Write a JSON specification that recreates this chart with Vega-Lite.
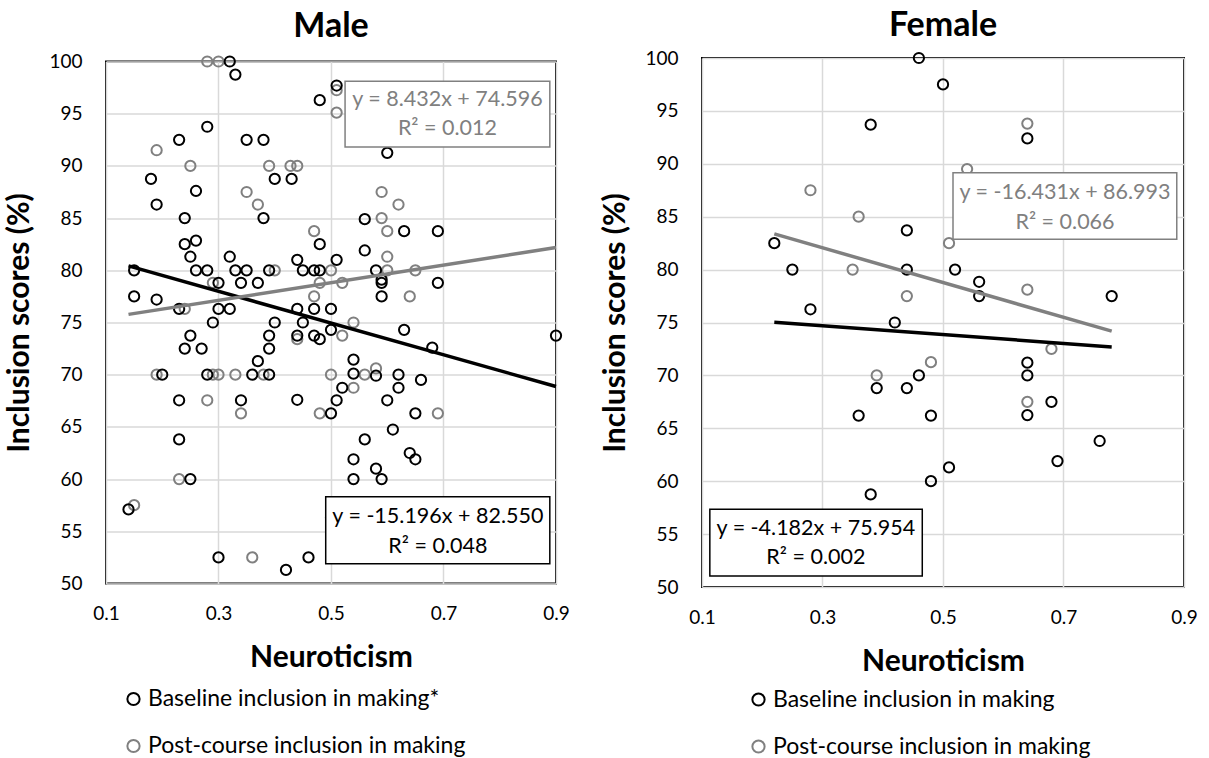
{
  "$schema": "https://vega.github.io/schema/vega-lite/v6.json",
  "padding": {"left": 3, "top": 7, "right": 5, "bottom": 0},
  "bounds": "flush",
  "center": true,
  "spacing": 146,
  "background": "white",
  "datasets": {
    "maleP": [
      {"series": "Post-course inclusion in making", "x": 0.28, "y": 100},
      {"series": "Post-course inclusion in making", "x": 0.30, "y": 100},
      {"series": "Post-course inclusion in making", "x": 0.19, "y": 91.5},
      {"series": "Post-course inclusion in making", "x": 0.25, "y": 90},
      {"series": "Post-course inclusion in making", "x": 0.39, "y": 90},
      {"series": "Post-course inclusion in making", "x": 0.428, "y": 90},
      {"series": "Post-course inclusion in making", "x": 0.44, "y": 90},
      {"series": "Post-course inclusion in making", "x": 0.35, "y": 87.5},
      {"series": "Post-course inclusion in making", "x": 0.37, "y": 86.3},
      {"series": "Post-course inclusion in making", "x": 0.47, "y": 83.75},
      {"series": "Post-course inclusion in making", "x": 0.40, "y": 80},
      {"series": "Post-course inclusion in making", "x": 0.50, "y": 80},
      {"series": "Post-course inclusion in making", "x": 0.29, "y": 78.8},
      {"series": "Post-course inclusion in making", "x": 0.48, "y": 78.8},
      {"series": "Post-course inclusion in making", "x": 0.47, "y": 77.5},
      {"series": "Post-course inclusion in making", "x": 0.24, "y": 76.3},
      {"series": "Post-course inclusion in making", "x": 0.51, "y": 97.25},
      {"series": "Post-course inclusion in making", "x": 0.51, "y": 95.1},
      {"series": "Post-course inclusion in making", "x": 0.59, "y": 87.5},
      {"series": "Post-course inclusion in making", "x": 0.62, "y": 86.3},
      {"series": "Post-course inclusion in making", "x": 0.59, "y": 85},
      {"series": "Post-course inclusion in making", "x": 0.60, "y": 83.75},
      {"series": "Post-course inclusion in making", "x": 0.60, "y": 81.3},
      {"series": "Post-course inclusion in making", "x": 0.60, "y": 80},
      {"series": "Post-course inclusion in making", "x": 0.65, "y": 80},
      {"series": "Post-course inclusion in making", "x": 0.64, "y": 77.5},
      {"series": "Post-course inclusion in making", "x": 0.52, "y": 78.8},
      {"series": "Post-course inclusion in making", "x": 0.54, "y": 75},
      {"series": "Post-course inclusion in making", "x": 0.19, "y": 70},
      {"series": "Post-course inclusion in making", "x": 0.29, "y": 70},
      {"series": "Post-course inclusion in making", "x": 0.30, "y": 70},
      {"series": "Post-course inclusion in making", "x": 0.33, "y": 70},
      {"series": "Post-course inclusion in making", "x": 0.38, "y": 70},
      {"series": "Post-course inclusion in making", "x": 0.44, "y": 73.4},
      {"series": "Post-course inclusion in making", "x": 0.50, "y": 70},
      {"series": "Post-course inclusion in making", "x": 0.28, "y": 67.55},
      {"series": "Post-course inclusion in making", "x": 0.34, "y": 66.3},
      {"series": "Post-course inclusion in making", "x": 0.48, "y": 66.3},
      {"series": "Post-course inclusion in making", "x": 0.23, "y": 60},
      {"series": "Post-course inclusion in making", "x": 0.15, "y": 57.5},
      {"series": "Post-course inclusion in making", "x": 0.36, "y": 52.5},
      {"series": "Post-course inclusion in making", "x": 0.52, "y": 73.75},
      {"series": "Post-course inclusion in making", "x": 0.56, "y": 70},
      {"series": "Post-course inclusion in making", "x": 0.58, "y": 70.6},
      {"series": "Post-course inclusion in making", "x": 0.54, "y": 68.75},
      {"series": "Post-course inclusion in making", "x": 0.69, "y": 66.3},
      {"series": "Baseline inclusion in making*", "x": 0.32, "y": 100},
      {"series": "Baseline inclusion in making*", "x": 0.33, "y": 98.75},
      {"series": "Baseline inclusion in making*", "x": 0.48, "y": 96.3},
      {"series": "Baseline inclusion in making*", "x": 0.28, "y": 93.75},
      {"series": "Baseline inclusion in making*", "x": 0.23, "y": 92.5},
      {"series": "Baseline inclusion in making*", "x": 0.35, "y": 92.5},
      {"series": "Baseline inclusion in making*", "x": 0.38, "y": 92.5},
      {"series": "Baseline inclusion in making*", "x": 0.18, "y": 88.75},
      {"series": "Baseline inclusion in making*", "x": 0.40, "y": 88.75},
      {"series": "Baseline inclusion in making*", "x": 0.43, "y": 88.75},
      {"series": "Baseline inclusion in making*", "x": 0.26, "y": 87.6},
      {"series": "Baseline inclusion in making*", "x": 0.19, "y": 86.3},
      {"series": "Baseline inclusion in making*", "x": 0.24, "y": 85},
      {"series": "Baseline inclusion in making*", "x": 0.38, "y": 85},
      {"series": "Baseline inclusion in making*", "x": 0.48, "y": 82.5},
      {"series": "Baseline inclusion in making*", "x": 0.24, "y": 82.5},
      {"series": "Baseline inclusion in making*", "x": 0.26, "y": 82.85},
      {"series": "Baseline inclusion in making*", "x": 0.25, "y": 81.3},
      {"series": "Baseline inclusion in making*", "x": 0.32, "y": 81.3},
      {"series": "Baseline inclusion in making*", "x": 0.44, "y": 81},
      {"series": "Baseline inclusion in making*", "x": 0.15, "y": 80},
      {"series": "Baseline inclusion in making*", "x": 0.26, "y": 80},
      {"series": "Baseline inclusion in making*", "x": 0.28, "y": 80},
      {"series": "Baseline inclusion in making*", "x": 0.33, "y": 80},
      {"series": "Baseline inclusion in making*", "x": 0.35, "y": 80},
      {"series": "Baseline inclusion in making*", "x": 0.39, "y": 80},
      {"series": "Baseline inclusion in making*", "x": 0.45, "y": 80},
      {"series": "Baseline inclusion in making*", "x": 0.47, "y": 80},
      {"series": "Baseline inclusion in making*", "x": 0.48, "y": 80},
      {"series": "Baseline inclusion in making*", "x": 0.34, "y": 78.8},
      {"series": "Baseline inclusion in making*", "x": 0.37, "y": 78.8},
      {"series": "Baseline inclusion in making*", "x": 0.30, "y": 78.8},
      {"series": "Baseline inclusion in making*", "x": 0.15, "y": 77.5},
      {"series": "Baseline inclusion in making*", "x": 0.19, "y": 77.2},
      {"series": "Baseline inclusion in making*", "x": 0.23, "y": 76.3},
      {"series": "Baseline inclusion in making*", "x": 0.30, "y": 76.3},
      {"series": "Baseline inclusion in making*", "x": 0.32, "y": 76.3},
      {"series": "Baseline inclusion in making*", "x": 0.44, "y": 76.3},
      {"series": "Baseline inclusion in making*", "x": 0.47, "y": 76.3},
      {"series": "Baseline inclusion in making*", "x": 0.50, "y": 76.3},
      {"series": "Baseline inclusion in making*", "x": 0.51, "y": 97.7},
      {"series": "Baseline inclusion in making*", "x": 0.60, "y": 91.25},
      {"series": "Baseline inclusion in making*", "x": 0.56, "y": 84.9},
      {"series": "Baseline inclusion in making*", "x": 0.63, "y": 83.75},
      {"series": "Baseline inclusion in making*", "x": 0.69, "y": 83.75},
      {"series": "Baseline inclusion in making*", "x": 0.56, "y": 81.9},
      {"series": "Baseline inclusion in making*", "x": 0.51, "y": 81},
      {"series": "Baseline inclusion in making*", "x": 0.58, "y": 80},
      {"series": "Baseline inclusion in making*", "x": 0.59, "y": 79.1},
      {"series": "Baseline inclusion in making*", "x": 0.59, "y": 78.8},
      {"series": "Baseline inclusion in making*", "x": 0.69, "y": 78.8},
      {"series": "Baseline inclusion in making*", "x": 0.59, "y": 77.5},
      {"series": "Baseline inclusion in making*", "x": 0.29, "y": 75},
      {"series": "Baseline inclusion in making*", "x": 0.25, "y": 73.75},
      {"series": "Baseline inclusion in making*", "x": 0.24, "y": 72.5},
      {"series": "Baseline inclusion in making*", "x": 0.27, "y": 72.5},
      {"series": "Baseline inclusion in making*", "x": 0.20, "y": 70},
      {"series": "Baseline inclusion in making*", "x": 0.28, "y": 70},
      {"series": "Baseline inclusion in making*", "x": 0.36, "y": 70},
      {"series": "Baseline inclusion in making*", "x": 0.39, "y": 70},
      {"series": "Baseline inclusion in making*", "x": 0.37, "y": 71.3},
      {"series": "Baseline inclusion in making*", "x": 0.39, "y": 72.5},
      {"series": "Baseline inclusion in making*", "x": 0.39, "y": 73.75},
      {"series": "Baseline inclusion in making*", "x": 0.40, "y": 75},
      {"series": "Baseline inclusion in making*", "x": 0.45, "y": 75},
      {"series": "Baseline inclusion in making*", "x": 0.44, "y": 73.75},
      {"series": "Baseline inclusion in making*", "x": 0.47, "y": 73.75},
      {"series": "Baseline inclusion in making*", "x": 0.48, "y": 73.4},
      {"series": "Baseline inclusion in making*", "x": 0.23, "y": 67.55},
      {"series": "Baseline inclusion in making*", "x": 0.34, "y": 67.55},
      {"series": "Baseline inclusion in making*", "x": 0.44, "y": 67.6},
      {"series": "Baseline inclusion in making*", "x": 0.50, "y": 66.3},
      {"series": "Baseline inclusion in making*", "x": 0.23, "y": 63.8},
      {"series": "Baseline inclusion in making*", "x": 0.25, "y": 60},
      {"series": "Baseline inclusion in making*", "x": 0.14, "y": 57.1},
      {"series": "Baseline inclusion in making*", "x": 0.30, "y": 52.5},
      {"series": "Baseline inclusion in making*", "x": 0.42, "y": 51.3},
      {"series": "Baseline inclusion in making*", "x": 0.46, "y": 52.5},
      {"series": "Baseline inclusion in making*", "x": 0.50, "y": 56.3},
      {"series": "Baseline inclusion in making*", "x": 0.50, "y": 74.3},
      {"series": "Baseline inclusion in making*", "x": 0.63, "y": 74.3},
      {"series": "Baseline inclusion in making*", "x": 0.68, "y": 72.6},
      {"series": "Baseline inclusion in making*", "x": 0.90, "y": 73.75},
      {"series": "Baseline inclusion in making*", "x": 0.54, "y": 71.45},
      {"series": "Baseline inclusion in making*", "x": 0.54, "y": 70.1},
      {"series": "Baseline inclusion in making*", "x": 0.58, "y": 69.9},
      {"series": "Baseline inclusion in making*", "x": 0.62, "y": 70},
      {"series": "Baseline inclusion in making*", "x": 0.62, "y": 68.75},
      {"series": "Baseline inclusion in making*", "x": 0.66, "y": 69.5},
      {"series": "Baseline inclusion in making*", "x": 0.52, "y": 68.75},
      {"series": "Baseline inclusion in making*", "x": 0.51, "y": 67.55},
      {"series": "Baseline inclusion in making*", "x": 0.60, "y": 67.55},
      {"series": "Baseline inclusion in making*", "x": 0.65, "y": 66.3},
      {"series": "Baseline inclusion in making*", "x": 0.61, "y": 64.75},
      {"series": "Baseline inclusion in making*", "x": 0.56, "y": 63.8},
      {"series": "Baseline inclusion in making*", "x": 0.54, "y": 61.9},
      {"series": "Baseline inclusion in making*", "x": 0.64, "y": 62.5},
      {"series": "Baseline inclusion in making*", "x": 0.65, "y": 61.9},
      {"series": "Baseline inclusion in making*", "x": 0.58, "y": 61.0},
      {"series": "Baseline inclusion in making*", "x": 0.54, "y": 60},
      {"series": "Baseline inclusion in making*", "x": 0.59, "y": 60}
    ],
    "maleT": [
      {"series": "Baseline", "x": 0.14, "y": 80.42},
      {"series": "Baseline", "x": 0.9, "y": 68.87},
      {"series": "Post", "x": 0.14, "y": 75.78},
      {"series": "Post", "x": 0.9, "y": 82.18}
    ],
    "maleBox": [
      {"series": "Post", "x": 0.525, "x2": 0.889, "y": 98.1, "y2": 91.8},
      {"series": "Baseline", "x": 0.4906, "x2": 0.889, "y": 58.3, "y2": 51.9}
    ],
    "maleEq": [
      {"series": "Post", "x": 0.707, "y": 96.36, "label": "y = 8.432x + 74.596"},
      {"series": "Post", "x": 0.707, "y": 93.49, "label": "R² = 0.012"},
      {"series": "Baseline", "x": 0.69, "y": 56.39, "label": "y = -15.196x + 82.550"},
      {"series": "Baseline", "x": 0.69, "y": 53.52, "label": "R² = 0.048"}
    ],
    "femaleP": [
      {"series": "Post-course inclusion in making", "x": 0.28, "y": 87.5},
      {"series": "Post-course inclusion in making", "x": 0.36, "y": 85},
      {"series": "Post-course inclusion in making", "x": 0.35, "y": 80},
      {"series": "Post-course inclusion in making", "x": 0.44, "y": 77.5},
      {"series": "Post-course inclusion in making", "x": 0.64, "y": 93.8},
      {"series": "Post-course inclusion in making", "x": 0.54, "y": 89.5},
      {"series": "Post-course inclusion in making", "x": 0.51, "y": 82.5},
      {"series": "Post-course inclusion in making", "x": 0.64, "y": 78.1},
      {"series": "Post-course inclusion in making", "x": 0.48, "y": 71.25},
      {"series": "Post-course inclusion in making", "x": 0.39, "y": 70},
      {"series": "Post-course inclusion in making", "x": 0.68, "y": 72.5},
      {"series": "Post-course inclusion in making", "x": 0.64, "y": 67.5},
      {"series": "Baseline inclusion in making", "x": 0.46, "y": 100},
      {"series": "Baseline inclusion in making", "x": 0.50, "y": 97.5},
      {"series": "Baseline inclusion in making", "x": 0.38, "y": 93.7},
      {"series": "Baseline inclusion in making", "x": 0.44, "y": 83.7},
      {"series": "Baseline inclusion in making", "x": 0.22, "y": 82.5},
      {"series": "Baseline inclusion in making", "x": 0.25, "y": 80},
      {"series": "Baseline inclusion in making", "x": 0.44, "y": 80},
      {"series": "Baseline inclusion in making", "x": 0.28, "y": 76.25},
      {"series": "Baseline inclusion in making", "x": 0.42, "y": 75},
      {"series": "Baseline inclusion in making", "x": 0.64, "y": 92.4},
      {"series": "Baseline inclusion in making", "x": 0.52, "y": 80},
      {"series": "Baseline inclusion in making", "x": 0.56, "y": 78.85},
      {"series": "Baseline inclusion in making", "x": 0.56, "y": 77.5},
      {"series": "Baseline inclusion in making", "x": 0.78, "y": 77.5},
      {"series": "Baseline inclusion in making", "x": 0.39, "y": 68.8},
      {"series": "Baseline inclusion in making", "x": 0.46, "y": 70},
      {"series": "Baseline inclusion in making", "x": 0.44, "y": 68.8},
      {"series": "Baseline inclusion in making", "x": 0.36, "y": 66.2},
      {"series": "Baseline inclusion in making", "x": 0.48, "y": 66.2},
      {"series": "Baseline inclusion in making", "x": 0.48, "y": 60},
      {"series": "Baseline inclusion in making", "x": 0.38, "y": 58.75},
      {"series": "Baseline inclusion in making", "x": 0.64, "y": 71.2},
      {"series": "Baseline inclusion in making", "x": 0.64, "y": 70},
      {"series": "Baseline inclusion in making", "x": 0.64, "y": 66.25},
      {"series": "Baseline inclusion in making", "x": 0.68, "y": 67.5},
      {"series": "Baseline inclusion in making", "x": 0.76, "y": 63.8},
      {"series": "Baseline inclusion in making", "x": 0.69, "y": 61.9},
      {"series": "Baseline inclusion in making", "x": 0.51, "y": 61.3}
    ],
    "femaleT": [
      {"series": "Baseline", "x": 0.22, "y": 75.03},
      {"series": "Baseline", "x": 0.78, "y": 72.69},
      {"series": "Post", "x": 0.22, "y": 83.38},
      {"series": "Post", "x": 0.78, "y": 74.18}
    ],
    "femaleBox": [
      {"series": "Post", "x": 0.5166, "x2": 0.888, "y": 89.16, "y2": 82.86},
      {"series": "Baseline", "x": 0.113, "x2": 0.4656, "y": 57.34, "y2": 51.04}
    ],
    "femaleEq": [
      {"series": "Post", "x": 0.7025, "y": 87.2, "label": "y = -16.431x + 86.993"},
      {"series": "Post", "x": 0.7025, "y": 84.4, "label": "R² = 0.066"},
      {"series": "Baseline", "x": 0.289, "y": 55.45, "label": "y = -4.182x + 75.954"},
      {"series": "Baseline", "x": 0.289, "y": 52.77, "label": "R² = 0.002"}
    ]
  },
  "hconcat": [
    {
      "title": {"text": "Male", "offset": 8.5},
      "width": 450,
      "height": 522,
      "encoding": {
        "x": {"field": "x", "type": "quantitative", "scale": {"domain": [0.1, 0.9], "nice": false, "zero": false},
              "axis": {"values": [0.1, 0.3, 0.5, 0.7, 0.9], "format": ".1f", "title": "Neuroticism"}},
        "y": {"field": "y", "type": "quantitative", "scale": {"domain": [50, 100], "nice": false, "zero": false},
              "axis": {"values": [50, 55, 60, 65, 70, 75, 80, 85, 90, 95, 100], "title": "Inclusion scores (%)"}}
      },
      "layer": [
        {
          "data": {"name": "maleP"},
          "mark": {"type": "point", "shape": "circle", "filled": false, "size": 105, "strokeWidth": 2, "opacity": 1},
          "encoding": {
            "color": {"field": "series", "type": "nominal",
              "scale": {"domain": ["Baseline inclusion in making*", "Post-course inclusion in making"], "range": ["#000000", "#808080"]},
              "legend": {"title": null, "orient": "none", "legendX": 16, "legendY": 626, "direction": "vertical",
                         "symbolType": "circle", "symbolSize": 150, "symbolStrokeWidth": 2, "rowPadding": 23,
                         "labelFontSize": 23, "labelFont": "Lato", "labelColor": "#000", "labelOffset": 3, "labelLimit": 0, "padding": 0}}
          }
        },
        {
          "data": {"name": "maleT"},
          "transform": [{"filter": "datum.series == 'Baseline'"}],
          "mark": {"type": "line", "color": "#000000", "strokeWidth": 3.5},
          "encoding": {}
        },
        {
          "data": {"name": "maleT"},
          "transform": [{"filter": "datum.series == 'Post'"}],
          "mark": {"type": "line", "color": "#808080", "strokeWidth": 3.5},
          "encoding": {}
        },
        {
          "data": {"name": "maleBox"},
          "transform": [{"filter": "datum.series == 'Post'"}],
          "mark": {"type": "rect", "fill": "white", "stroke": "#808080", "strokeWidth": 1.5},
          "encoding": {"x2": {"field": "x2"}, "y2": {"field": "y2"}}
        },
        {
          "data": {"name": "maleBox"},
          "transform": [{"filter": "datum.series == 'Baseline'"}],
          "mark": {"type": "rect", "fill": "white", "stroke": "#000000", "strokeWidth": 1.5},
          "encoding": {"x2": {"field": "x2"}, "y2": {"field": "y2"}}
        },
        {
          "data": {"name": "maleEq"},
          "transform": [{"filter": "datum.series == 'Post'"}],
          "mark": {"type": "text", "font": "Lato", "fontSize": 21.5, "color": "#808080", "baseline": "middle", "align": "center"},
          "encoding": {"text": {"field": "label"}}
        },
        {
          "data": {"name": "maleEq"},
          "transform": [{"filter": "datum.series == 'Baseline'"}],
          "mark": {"type": "text", "font": "Lato", "fontSize": 21.5, "color": "#000000", "baseline": "middle", "align": "center"},
          "encoding": {"text": {"field": "label"}}
        }
      ]
    },
    {
      "title": {"text": "Female", "offset": 6},
      "width": 482,
      "height": 529,
      "encoding": {
        "x": {"field": "x", "type": "quantitative", "scale": {"domain": [0.1, 0.9], "nice": false, "zero": false},
              "axis": {"values": [0.1, 0.3, 0.5, 0.7, 0.9], "format": ".1f", "title": "Neuroticism"}},
        "y": {"field": "y", "type": "quantitative", "scale": {"domain": [50, 100], "nice": false, "zero": false},
              "axis": {"values": [50, 55, 60, 65, 70, 75, 80, 85, 90, 95, 100], "title": "Inclusion scores (%)"}}
      },
      "layer": [
        {
          "data": {"name": "femaleP"},
          "mark": {"type": "point", "shape": "circle", "filled": false, "size": 105, "strokeWidth": 2, "opacity": 1},
          "encoding": {
            "color": {"field": "series", "type": "nominal",
              "scale": {"domain": ["Baseline inclusion in making", "Post-course inclusion in making"], "range": ["#000000", "#808080"]},
              "legend": {"title": null, "orient": "none", "legendX": 45, "legendY": 630, "direction": "vertical",
                         "symbolType": "circle", "symbolSize": 150, "symbolStrokeWidth": 2, "rowPadding": 23,
                         "labelFontSize": 23, "labelFont": "Lato", "labelColor": "#000", "labelOffset": 3, "labelLimit": 0, "padding": 0}}
          }
        },
        {
          "data": {"name": "femaleT"},
          "transform": [{"filter": "datum.series == 'Baseline'"}],
          "mark": {"type": "line", "color": "#000000", "strokeWidth": 3.5},
          "encoding": {}
        },
        {
          "data": {"name": "femaleT"},
          "transform": [{"filter": "datum.series == 'Post'"}],
          "mark": {"type": "line", "color": "#808080", "strokeWidth": 3.5},
          "encoding": {}
        },
        {
          "data": {"name": "femaleBox"},
          "transform": [{"filter": "datum.series == 'Post'"}],
          "mark": {"type": "rect", "fill": "white", "stroke": "#808080", "strokeWidth": 1.5},
          "encoding": {"x2": {"field": "x2"}, "y2": {"field": "y2"}}
        },
        {
          "data": {"name": "femaleBox"},
          "transform": [{"filter": "datum.series == 'Baseline'"}],
          "mark": {"type": "rect", "fill": "white", "stroke": "#000000", "strokeWidth": 1.5},
          "encoding": {"x2": {"field": "x2"}, "y2": {"field": "y2"}}
        },
        {
          "data": {"name": "femaleEq"},
          "transform": [{"filter": "datum.series == 'Post'"}],
          "mark": {"type": "text", "font": "Lato", "fontSize": 21.5, "color": "#808080", "baseline": "middle", "align": "center"},
          "encoding": {"text": {"field": "label"}}
        },
        {
          "data": {"name": "femaleEq"},
          "transform": [{"filter": "datum.series == 'Baseline'"}],
          "mark": {"type": "text", "font": "Lato", "fontSize": 21.5, "color": "#000000", "baseline": "middle", "align": "center"},
          "encoding": {"text": {"field": "label"}}
        }
      ]
    }
  ],
  "resolve": {"scale": {"color": "independent"}, "legend": {"color": "independent"}},
  "config": {
    "view": {"stroke": "#000000", "strokeWidth": 2},
    "axis": {
      "labelFont": "Lato", "labelFontSize": 19, "labelColor": "#000000", "labelFlush": false,
      "titleFont": "Lato", "titleFontSize": 30, "titleFontWeight": "bold", "titleColor": "#000000",
      "ticks": false, "tickSize": 0, "domain": false,
      "grid": true, "gridColor": "#d9d9d9", "gridWidth": 1.5, "gridOpacity": 1
    },
    "axisX": {"labelPadding": 21, "titlePadding": 19},
    "axisY": {"labelPadding": 24, "titlePadding": 14},
    "title": {"font": "Lato", "fontSize": 34, "fontWeight": "bold", "color": "#000000", "baseline": "alphabetic", "anchor": "middle"}
  }
}
